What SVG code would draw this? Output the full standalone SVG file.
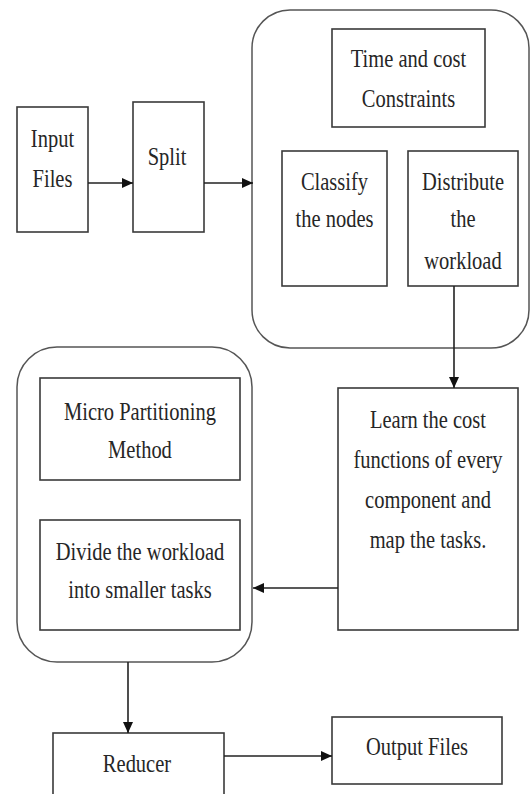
<svg xmlns="http://www.w3.org/2000/svg" width="531" height="794" viewBox="0 0 531 794">
<defs>
<marker id="ah" markerWidth="12" markerHeight="12" refX="11" refY="6" orient="auto" markerUnits="userSpaceOnUse">
<path d="M0,1 L11,6 L0,11 Z" fill="#111"/>
</marker>
<style>
.box{fill:#fff;stroke:#3a3a3a;stroke-width:1.6}
.grp{fill:#fff;stroke:#555;stroke-width:1.5}
.t{font-family:'Liberation Serif','DejaVu Serif',serif;font-size:20.5px;fill:#262626;text-anchor:middle}
.c{stroke:#222;stroke-width:1.6;fill:none}
</style>
</defs>
<rect width="531" height="794" fill="#fff"/>
<g id="group-top">
<rect class="grp" x="252" y="10" width="277" height="338" rx="38" ry="38"/>
</g>
<g id="group-left">
<rect class="grp" x="17" y="347" width="235" height="315" rx="40" ry="40"/>
</g>
<g id="input-files">
<rect class="box" x="17" y="107" width="71" height="125"/>
<text class="t" transform="translate(52.5,147) scale(1,1.27)"><tspan x="0" y="0">Input</tspan><tspan x="0" dy="31.5">Files</tspan></text>
</g>
<g id="split">
<rect class="box" x="133" y="102" width="71" height="130"/>
<text class="t" transform="translate(167,165) scale(1,1.27)"><tspan x="0" y="0">Split</tspan></text>
</g>
<g id="time-cost">
<rect class="box" x="332" y="29" width="153" height="98"/>
<text class="t" transform="translate(408.5,67) scale(1,1.27)"><tspan x="0" y="0">Time and cost</tspan><tspan x="0" dy="31.5">Constraints</tspan></text>
</g>
<g id="classify">
<rect class="box" x="282" y="151" width="105" height="135"/>
<text class="t" transform="translate(334.5,190) scale(1,1.27)"><tspan x="0" y="0">Classify</tspan><tspan x="0" dy="29">the nodes</tspan></text>
</g>
<g id="distribute">
<rect class="box" x="408" y="151" width="110" height="135"/>
<text class="t" transform="translate(463,190) scale(1,1.27)"><tspan x="0" y="0">Distribute</tspan><tspan x="0" dy="29">the</tspan><tspan x="0" dy="33.5">workload</tspan></text>
</g>
<g id="learn">
<rect class="box" x="338" y="388" width="180" height="242"/>
<text class="t" transform="translate(428,428) scale(1,1.27)"><tspan x="0" y="0">Learn the cost</tspan><tspan x="0" dy="31.5">functions of every</tspan><tspan x="0" dy="31.5">component and</tspan><tspan x="0" dy="31.5">map the tasks.</tspan></text>
</g>
<g id="micro">
<rect class="box" x="40" y="378" width="200" height="102"/>
<text class="t" transform="translate(140,420) scale(1,1.27)"><tspan x="0" y="0">Micro Partitioning</tspan><tspan x="0" dy="30">Method</tspan></text>
</g>
<g id="divide">
<rect class="box" x="40" y="520" width="200" height="110"/>
<text class="t" transform="translate(140,560) scale(1,1.27)"><tspan x="0" y="0">Divide the workload</tspan><tspan x="0" dy="30">into smaller tasks</tspan></text>
</g>
<g id="reducer">
<rect class="box" x="53" y="733" width="171" height="80"/>
<text class="t" transform="translate(137,772) scale(1,1.27)"><tspan x="0" y="0">Reducer</tspan></text>
</g>
<g id="output-files">
<rect class="box" x="332" y="717" width="170" height="67"/>
<text class="t" transform="translate(417,755) scale(1,1.27)"><tspan x="0" y="0">Output Files</tspan></text>
</g>
<g id="connectors">
<line class="c" x1="88" y1="183" x2="133" y2="183" marker-end="url(#ah)"/>
<line class="c" x1="204" y1="183" x2="253" y2="183" marker-end="url(#ah)"/>
<line class="c" x1="454" y1="286" x2="454" y2="388" marker-end="url(#ah)"/>
<line class="c" x1="338" y1="588" x2="253" y2="588" marker-end="url(#ah)"/>
<line class="c" x1="128" y1="662" x2="128" y2="733" marker-end="url(#ah)"/>
<line class="c" x1="224" y1="756" x2="332" y2="756" marker-end="url(#ah)"/>
</g>
</svg>
